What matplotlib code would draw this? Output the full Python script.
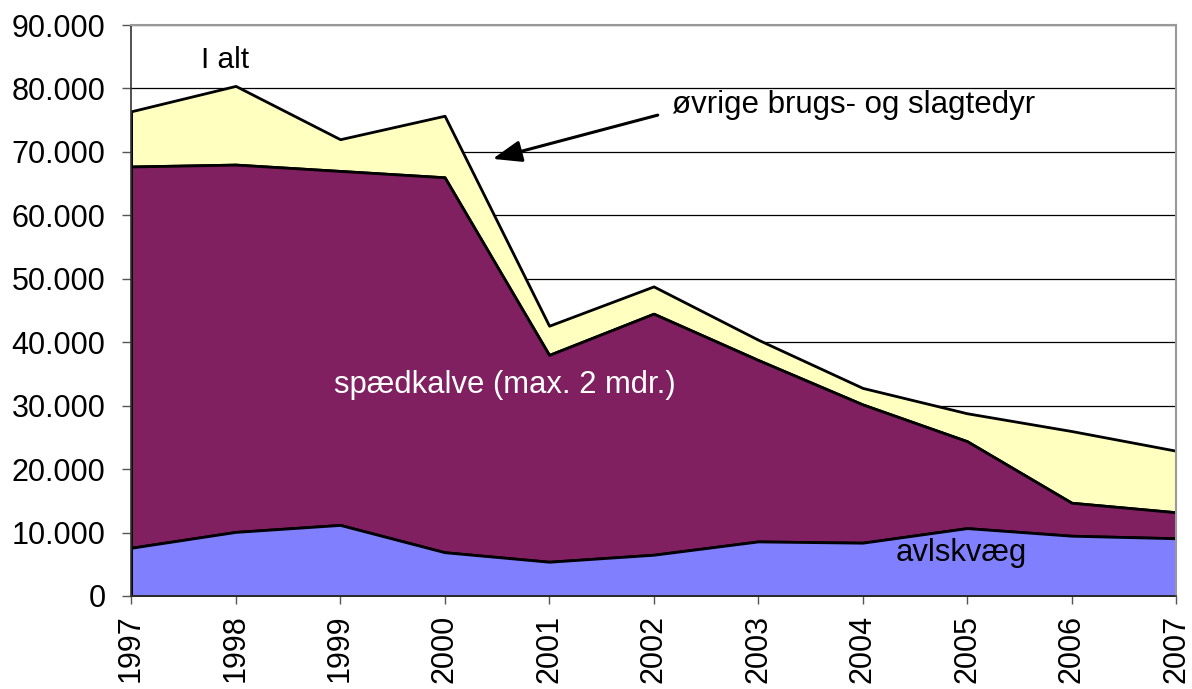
import matplotlib
matplotlib.use("Agg")
import matplotlib.pyplot as plt
from matplotlib.ticker import FuncFormatter, MultipleLocator
import numpy as np

plt.rcParams['font.family'] = ['Liberation Sans', 'DejaVu Sans']

years = [1997, 1998, 1999, 2000, 2001, 2002, 2003, 2004, 2005, 2006, 2007]
avlskvaeg = [7600, 10100, 11200, 6900, 5400, 6500, 8600, 8400, 10700, 9500, 9100]
spaedkalve_cum = [67700, 68000, 67000, 66000, 38000, 44500, 37200, 30200, 24400, 14700, 13200]
i_alt = [76400, 80400, 72000, 75700, 42600, 48800, 40400, 32800, 28800, 26000, 22900]

spaedkalve = [c - a for c, a in zip(spaedkalve_cum, avlskvaeg)]
oevrige = [t - c for t, c in zip(i_alt, spaedkalve_cum)]

x = np.array(years)
a = np.array(avlskvaeg)
s = a + np.array(spaedkalve)
t = s + np.array(oevrige)

fig = plt.figure(figsize=(11.92, 6.89), dpi=100)
ax = fig.add_axes([0.110, 0.135, 0.8766, 0.8287])

ax.fill_between(x, s, t, facecolor='#FFFFC0', edgecolor='black', linewidth=2, zorder=2)
ax.fill_between(x, a, s, facecolor='#802060', edgecolor='black', linewidth=2, zorder=3)
ax.fill_between(x, 0, a, facecolor='#8080FF', edgecolor='black', linewidth=2, zorder=4)

ax.set_xlim(1997, 2007)
ax.set_ylim(0, 90000)
ax.yaxis.set_major_locator(MultipleLocator(10000))
ax.yaxis.set_major_formatter(FuncFormatter(lambda v, p: f"{int(v):,}".replace(',', '.')))
ax.set_xticks(years)
ax.set_xticklabels([str(y) for y in years], rotation=90)
ax.tick_params(axis='y', labelsize=22, direction='out', length=6.5, width=1, color='#555555', pad=12)
ax.tick_params(axis='x', labelsize=22, direction='out', length=6, width=1, color='#555555', pad=7.5)

ax.grid(axis='y', color='black', linewidth=0.9, zorder=1)
ax.set_axisbelow(True)

for side in ['top', 'right']:
    ax.spines[side].set_color('#999999')
    ax.spines[side].set_linewidth(1.5)
for side in ['left', 'bottom']:
    ax.spines[side].set_color('#333333')
    ax.spines[side].set_linewidth(1.2)
for sp in ax.spines.values():
    sp.set_zorder(6)

ax.text(1997.9, 84500, 'I alt', fontsize=21.5, ha='center', va='center')
ax.text(2000.58, 33300, 'spædkalve (max. 2 mdr.)', fontsize=22.3, ha='center', va='center', color='white', zorder=7)
ax.text(2004.94, 6700, 'avlskvæg', fontsize=22.3, ha='center', va='center', zorder=7)
ax.text(2002.18, 77400, 'øvrige brugs- og slagtedyr', fontsize=22.5, ha='left', va='center')
ax.annotate('', xy=(2000.46, 68900), xytext=(2002.04, 75800),
            arrowprops=dict(arrowstyle='-|>,head_length=0.8,head_width=0.3', color='black', lw=2.2,
                            mutation_scale=22, shrinkA=0, shrinkB=0))

fig.savefig('out.png', dpi=100)
